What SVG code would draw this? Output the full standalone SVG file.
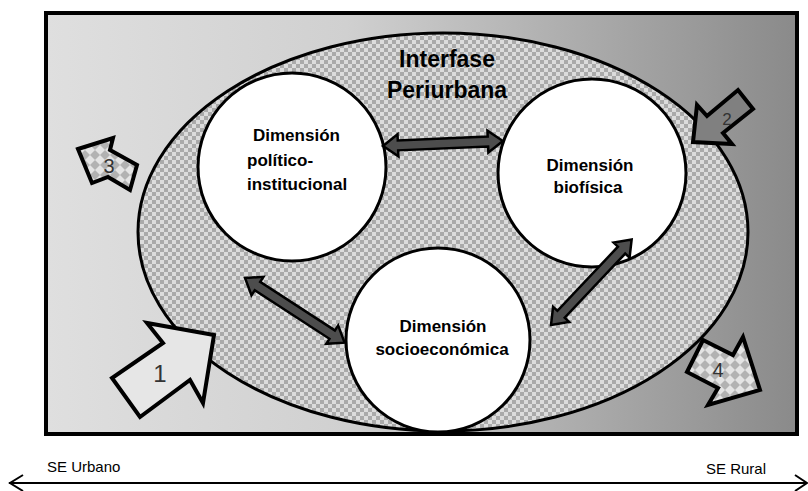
<svg xmlns="http://www.w3.org/2000/svg" width="808" height="491" viewBox="0 0 808 491">
  <defs>
    <linearGradient id="bgGrad" x1="0" y1="0" x2="1" y2="0">
      <stop offset="0" stop-color="#dfdfdf"/>
      <stop offset="0.4" stop-color="#d0d0d0"/>
      <stop offset="1" stop-color="#8a8a8a"/>
    </linearGradient>
    <!-- small checkerboard for the periurban interface -->
    <pattern id="checker" width="8" height="8" patternUnits="userSpaceOnUse">
      <rect width="8" height="8" fill="#dcdcdc"/>
      <rect width="4" height="4" fill="#aaaaaa"/>
      <rect x="4" y="4" width="4" height="4" fill="#aaaaaa"/>
    </pattern>
    <!-- diamond tiling for flows 3 and 4 -->
    <pattern id="diamond" width="10" height="10" patternUnits="userSpaceOnUse">
      <rect width="10" height="10" fill="#e4e4e4"/>
      <polygon points="5,0 10,5 5,10 0,5" fill="#b2b2b2"/>
    </pattern>
    <path id="dbl" d="M0,0 L15,-11 L15,-5 L105,-5 L105,-11 L120,0 L105,11 L105,5 L15,5 L15,11 Z"/>
  </defs>
  <style>
    .circle { fill: #ffffff; stroke: #000000; stroke-width: 3; }
    .dim { font-family: "Liberation Sans", Arial, sans-serif; font-weight: bold; font-size: 17px; fill: #000000; }
    .title { font-family: "Liberation Sans", Arial, sans-serif; font-weight: bold; font-size: 23px; fill: #000000; text-anchor: middle; }
    .flow { stroke: #000000; stroke-width: 4; stroke-linejoin: miter; }
    .num { font-family: "Liberation Sans", Arial, sans-serif; fill: #333333; text-anchor: middle; }
    .link { fill: #4d4d4d; stroke: #000000; stroke-width: 2.5; stroke-linejoin: miter; }
    .axis { font-family: "Liberation Sans", Arial, sans-serif; font-size: 15px; fill: #000000; }
  </style>

  <!-- frame with urban-to-rural gradient -->
  <rect x="46" y="13" width="751" height="421" fill="url(#bgGrad)" stroke="#000000" stroke-width="4"/>

  <!-- periurban interface -->
  <g id="interfase">
    <ellipse cx="443" cy="232" rx="305" ry="199" fill="url(#checker)" stroke="#000000" stroke-width="3"/>
    <text class="title" x="447" y="67">Interfase</text>
    <text class="title" x="447" y="98">Periurbana</text>
  </g>

  <g id="dim-politico">
    <circle class="circle" cx="292" cy="167" r="94"/>
    <text class="dim" x="253" y="141">Dimensión</text>
    <text class="dim" x="247" y="166">político-</text>
    <text class="dim" x="247" y="190">institucional</text>
  </g>

  <g id="dim-biofisica">
    <circle class="circle" cx="592" cy="173" r="94"/>
    <text class="dim" x="590" y="171" text-anchor="middle">Dimensión</text>
    <text class="dim" x="588" y="193" text-anchor="middle">biofísica</text>
  </g>

  <g id="dim-socio">
    <circle class="circle" cx="438" cy="340" r="92"/>
    <text class="dim" x="443" y="332" text-anchor="middle">Dimensión</text>
    <text class="dim" x="442" y="355" text-anchor="middle">socioeconómica</text>
  </g>

  <!-- two-way links between dimensions -->
  <g id="connectors">
    <use href="#dbl" class="link" transform="translate(383,146) rotate(-2.4)"/>
    <use href="#dbl" class="link" transform="translate(245,278) rotate(33) scale(0.99,1)"/>
    <use href="#dbl" class="link" transform="translate(551,325) rotate(-46.7) scale(0.98,1)"/>
  </g>

  <!-- external flows -->
  <g id="flow-1">
    <polygon class="flow" fill="#e6e6e6" points="214,335 147,323 163,343 112,378 140,417 190,380 203,403"/>
    <text class="num" x="160" y="382" font-size="24">1</text>
  </g>
  <g id="flow-2">
    <polygon class="flow" fill="#808080" points="693,142 697,105 707,116 738,90 753,109 723,133 732,144"/>
    <text class="num" x="727" y="125" font-size="17">2</text>
  </g>
  <g id="flow-3">
    <polygon class="flow" fill="url(#diamond)" points="78,149 113,138 110,150 137,165 130,190 108,177 92,183"/>
    <text class="num" x="109" y="173" font-size="20">3</text>
  </g>
  <g id="flow-4">
    <polygon class="flow" fill="url(#diamond)" points="703,340 733,355 743,337 760,390 708,405 718,388 687,372"/>
    <text class="num" x="718" y="377" font-size="20">4</text>
  </g>

  <!-- urban-rural axis -->
  <g id="axis">
    <line x1="9" y1="483" x2="806" y2="483" stroke="#000000" stroke-width="2"/>
    <polyline points="23,475 10,483 23,491" fill="none" stroke="#000000" stroke-width="2"/>
    <polyline points="795,475 807,483 795,491" fill="none" stroke="#000000" stroke-width="2"/>
    <text class="axis" x="47" y="472">SE Urbano</text>
    <text class="axis" x="766" y="474" text-anchor="end">SE Rural</text>
  </g>
</svg>
